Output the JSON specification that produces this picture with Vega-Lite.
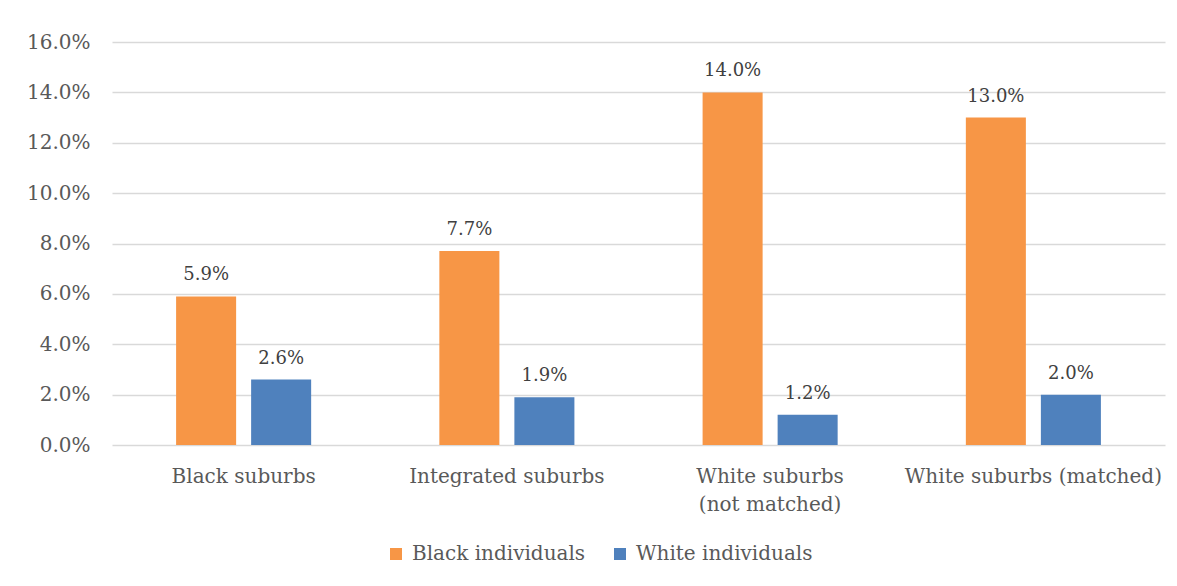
{
  "$schema": "https://vega.github.io/schema/vega-lite/v6.json",
  "width": 1053,
  "height": 403,
  "autosize": {"type": "none"},
  "padding": {"left": 112, "top": 42, "right": 12, "bottom": 141},
  "background": "white",
  "data": {
    "values": [
      {"area": "Black suburbs", "group": "Black individuals", "share": 0.059},
      {"area": "Black suburbs", "group": "White individuals", "share": 0.026},
      {"area": "Integrated suburbs", "group": "Black individuals", "share": 0.077},
      {"area": "Integrated suburbs", "group": "White individuals", "share": 0.019},
      {"area": "White suburbs (not matched)", "group": "Black individuals", "share": 0.14},
      {"area": "White suburbs (not matched)", "group": "White individuals", "share": 0.012},
      {"area": "White suburbs (matched)", "group": "Black individuals", "share": 0.13},
      {"area": "White suburbs (matched)", "group": "White individuals", "share": 0.02}
    ]
  },
  "encoding": {
    "x": {
      "field": "area",
      "type": "nominal",
      "sort": ["Black suburbs", "Integrated suburbs", "White suburbs (not matched)", "White suburbs (matched)"],
      "scale": {"paddingInner": 0.487, "paddingOuter": 0.2435},
      "axis": {
        "title": null,
        "labelAngle": 0,
        "ticks": false,
        "domain": false,
        "labelPadding": 21,
        "labelLineHeight": 28,
        "labelLimit": 0,
        "labelExpr": "datum.label == 'White suburbs (not matched)' ? ['White suburbs', '(not matched)'] : datum.label"
      }
    },
    "xOffset": {
      "field": "group",
      "type": "nominal",
      "scale": {"paddingInner": 0.2, "paddingOuter": 0}
    },
    "y": {
      "field": "share",
      "type": "quantitative",
      "scale": {"domain": [0, 0.16], "nice": false},
      "axis": {
        "title": null,
        "format": ".1%",
        "values": [0, 0.02, 0.04, 0.06, 0.08, 0.1, 0.12, 0.14, 0.16],
        "ticks": false,
        "domain": false,
        "labelPadding": 22,
        "gridColor": "#D9D9D9",
        "gridWidth": 1.5
      }
    }
  },
  "layer": [
    {
      "mark": {"type": "bar"},
      "encoding": {
        "color": {
          "field": "group",
          "type": "nominal",
          "scale": {"domain": ["Black individuals", "White individuals"], "range": ["#F79646", "#4F81BD"]},
          "legend": {
            "title": null,
            "orient": "none",
            "direction": "horizontal",
            "legendX": 274,
            "legendY": 502,
            "symbolType": "square",
            "symbolSize": 144,
            "symbolStrokeWidth": 0,
            "labelOffset": 6,
            "columnPadding": 24,
            "labelLimit": 0
          }
        }
      }
    },
    {
      "mark": {"type": "text", "baseline": "bottom", "dy": -12, "font": "DejaVu Serif", "fontSize": 18, "color": "#404040"},
      "encoding": {
        "text": {"field": "share", "type": "quantitative", "format": ".1%"}
      }
    }
  ],
  "config": {
    "view": {"stroke": null},
    "axis": {
      "labelFont": "DejaVu Serif",
      "labelFontSize": 20,
      "labelColor": "#595959"
    },
    "legend": {
      "labelFont": "DejaVu Serif",
      "labelFontSize": 20,
      "labelColor": "#595959"
    }
  }
}
